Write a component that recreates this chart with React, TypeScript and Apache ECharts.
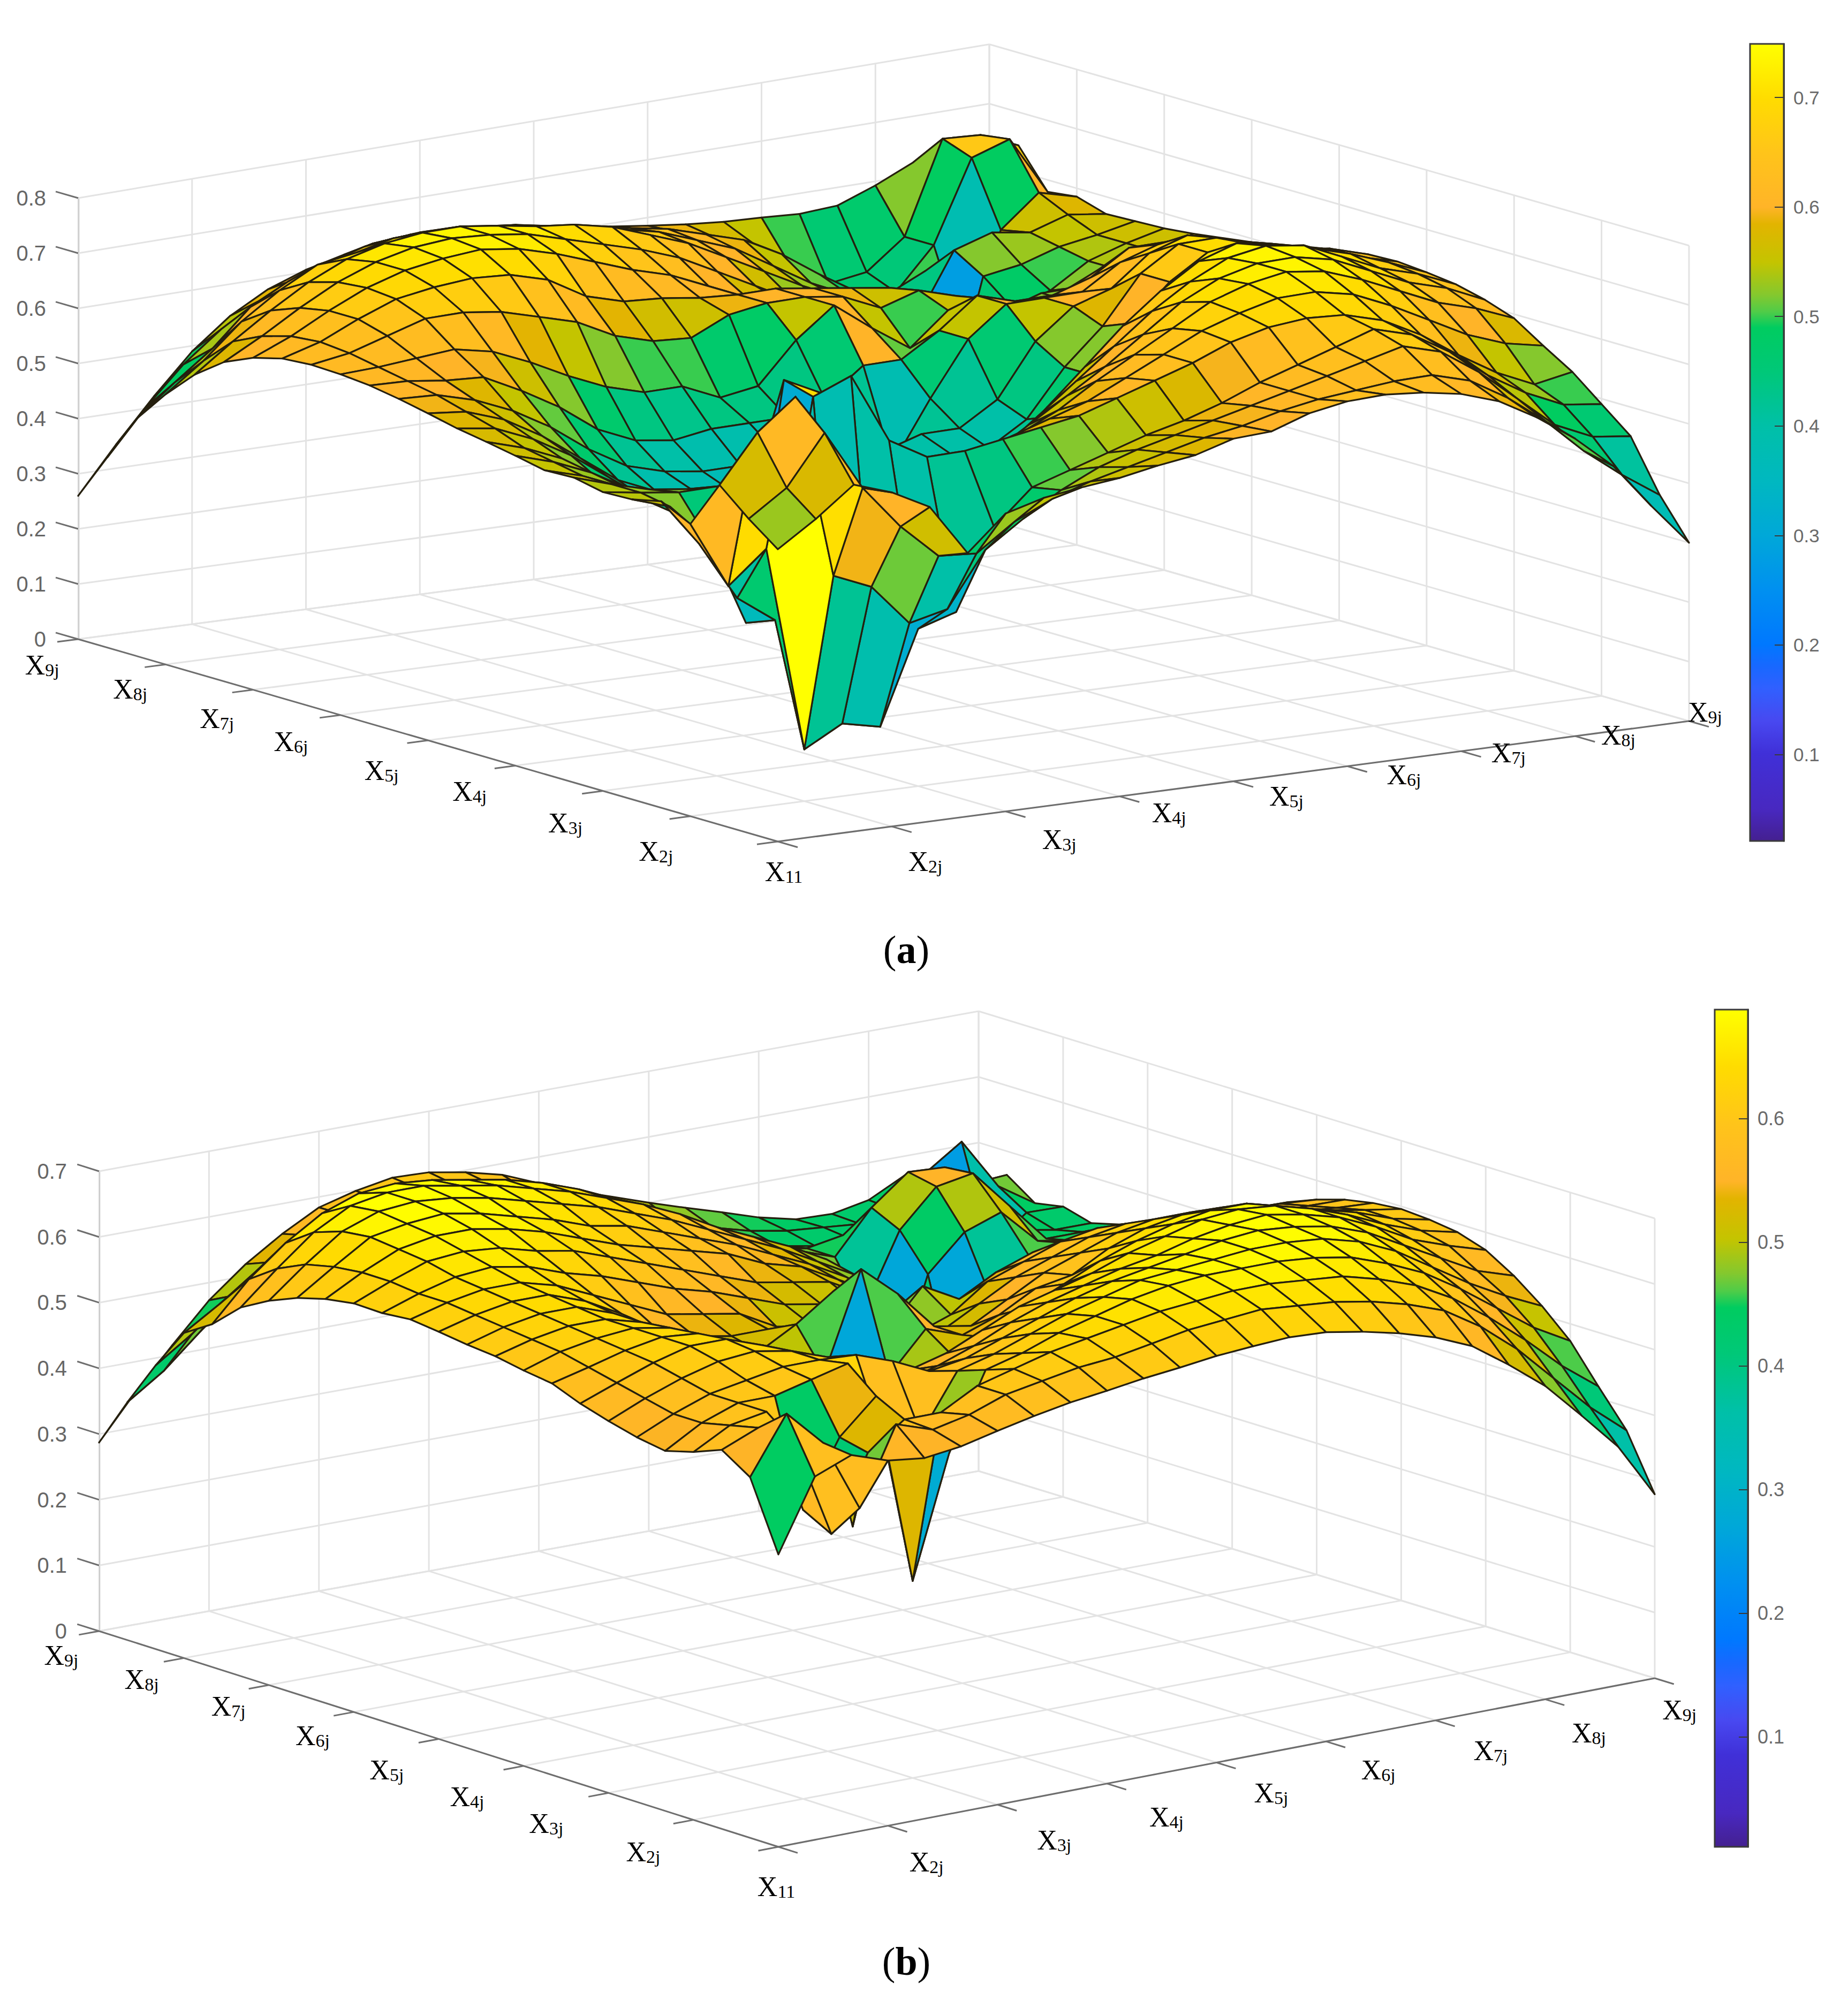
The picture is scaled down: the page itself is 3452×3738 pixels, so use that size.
import React, { useEffect, useRef } from "react";
import * as echarts from "echarts";

const zTicksA = [0, 0.1, 0.2, 0.3, 0.4, 0.5, 0.6, 0.7, 0.8];
const zTicksB = [0, 0.1, 0.2, 0.3, 0.4, 0.5, 0.6, 0.7];
const barTicksA = [0.1, 0.2, 0.3, 0.4, 0.5, 0.6, 0.7];
const barTicksB = [0.1, 0.2, 0.3, 0.4, 0.5, 0.6];
const axisNamesLeft = ["9j", "8j", "7j", "6j", "5j", "4j", "3j", "2j"];
const axisNamesRight = ["2j", "3j", "4j", "5j", "6j", "7j", "8j", "9j"];

const surfaceA = [
[.53,.574,.625,.60,.563,.47,.53,.547,.555,.561,.572,.58,.598,.60,.621,.631,.632,.625,.612,.589,.551,.505,.449,.372,.30],
[.57,.615,.703,.593,.513,.45,.444,.49,.52,.54,.555,.57,.585,.595,.61,.62,.625,.63,.63,.61,.57,.52,.46,.41,.366],
[.616,.70,.753,.42,.39,.315,.33,.425,.47,.51,.54,.56,.575,.59,.605,.62,.635,.65,.665,.645,.60,.545,.49,.46,.451],
[.53,.407,.464,.093,.13,.115,.28,.30,.44,.50,.52,.54,.56,.575,.595,.62,.64,.66,.68,.66,.62,.57,.53,.50,.491],
[.556,.468,.36,.31,.70,.726,.60,.56,.56,.57,.58,.59,.61,.63,.65,.675,.69,.695,.69,.67,.635,.59,.55,.52,.531],
[.544,.52,.45,.29,.715,.68,.55,.52,.52,.53,.55,.57,.59,.62,.65,.68,.70,.715,.715,.70,.67,.635,.60,.575,.561],
[.542,.53,.52,.52,.52,.50,.50,.45,.46,.48,.50,.53,.56,.60,.635,.67,.705,.725,.735,.725,.70,.67,.64,.62,.593],
[.553,.53,.51,.50,.48,.46,.44,.46,.39,.42,.45,.48,.52,.56,.60,.645,.69,.72,.735,.735,.72,.69,.66,.64,.61],
[.551,.53,.50,.47,.44,.42,.40,.39,.42,.38,.40,.42,.46,.51,.56,.61,.66,.70,.73,.74,.73,.70,.67,.65,.622],
[.562,.54,.51,.47,.43,.40,.38,.37,.36,.40,.38,.38,.40,.44,.50,.56,.62,.67,.71,.73,.715,.70,.68,.655,.628],
[.572,.55,.52,.47,.43,.39,.37,.36,.35,.35,.40,.37,.38,.40,.42,.46,.52,.60,.66,.70,.705,.69,.675,.65,.632],
[.581,.57,.54,.50,.45,.40,.38,.36,.36,.36,.37,.38,.40,.40,.40,.44,.52,.58,.66,.70,.70,.68,.66,.65,.63],
[.593,.585,.56,.52,.47,.42,.39,.38,.37,.38,.39,.38,.40,.42,.42,.46,.55,.60,.62,.67,.69,.67,.65,.635,.623],
[.604,.60,.58,.55,.51,.46,.42,.40,.39,.39,.40,.41,.42,.353,.457,.55,.60,.60,.60,.64,.66,.66,.645,.63,.614],
[.613,.61,.60,.595,.56,.52,.47,.44,.43,.44,.44,.44,.46,.51,.51,.55,.60,.58,.58,.60,.64,.64,.63,.618,.604],
[.618,.62,.625,.63,.615,.585,.55,.52,.50,.50,.47,.48,.55,.60,.55,.505,.56,.57,.52,.56,.59,.60,.60,.60,.594],
[.62,.63,.65,.67,.67,.66,.64,.62,.585,.565,.56,.59,.60,.60,.59,.56,.58,.56,.50,.52,.52,.53,.55,.57,.587],
[.616,.635,.665,.69,.70,.705,.70,.68,.64,.62,.615,.605,.60,.60,.59,.58,.57,.54,.47,.50,.52,.52,.54,.56,.58],
[.602,.63,.665,.695,.715,.725,.73,.72,.70,.675,.65,.63,.60,.57,.55,.53,.51,.47,.50,.46,.48,.50,.54,.56,.575],
[.579,.615,.655,.69,.715,.73,.735,.73,.72,.70,.68,.66,.635,.60,.565,.53,.50,.47,.06,.28,.52,.53,.55,.56,.573],
[.541,.59,.635,.675,.705,.722,.73,.73,.72,.708,.70,.685,.66,.635,.60,.565,.53,.50,.48,.44,.55,.57,.56,.58,.571],
[.49,.54,.60,.645,.68,.69,.705,.705,.70,.69,.68,.67,.655,.64,.615,.59,.55,.51,.48,.47,.50,.38,.55,.603,.586],
[.43,.485,.536,.60,.635,.655,.675,.682,.68,.678,.67,.657,.645,.632,.62,.60,.58,.545,.50,.46,.45,.52,.658,.679,.58],
[.345,.424,.492,.545,.585,.614,.638,.655,.66,.66,.652,.642,.632,.62,.605,.59,.57,.55,.50,.46,.47,.52,.676,.672,.644],
[.26,.343,.42,.49,.543,.58,.604,.62,.633,.638,.637,.628,.617,.606,.595,.586,.578,.572,.569,.565,.569,.593,.622,.62,.60],
];

const surfaceB = [
[.445,.553,.575,.556,.549,.556,.569,.581,.591,.598,.606,.612,.619,.623,.626,.623,.613,.60,.583,.559,.52,.477,.421,.363,.28],
[.549,.635,.58,.47,.587,.568,.58,.60,.61,.62,.625,.635,.645,.65,.655,.65,.645,.635,.62,.60,.565,.52,.465,.41,.364],
[.577,.60,.567,.417,.53,.57,.57,.60,.615,.63,.64,.65,.66,.665,.67,.67,.665,.66,.645,.625,.595,.555,.51,.46,.418],
[.56,.59,.60,.44,.54,.592,.30,.484,.60,.615,.635,.65,.665,.675,.68,.68,.68,.675,.665,.645,.62,.585,.545,.505,.474],
[.548,.58,.60,.60,.614,.628,.50,.50,.585,.60,.62,.64,.655,.67,.675,.68,.685,.685,.68,.665,.64,.605,.57,.54,.514],
[.555,.58,.60,.61,.62,.62,.617,.597,.571,.58,.60,.62,.64,.655,.665,.675,.685,.69,.685,.675,.655,.625,.595,.565,.547],
[.566,.59,.61,.625,.63,.62,.60,.56,.54,.555,.575,.60,.62,.635,.65,.66,.675,.685,.69,.68,.665,.64,.61,.59,.573],
[.579,.60,.62,.635,.635,.615,.575,.54,.53,.535,.55,.575,.60,.615,.63,.65,.665,.68,.685,.68,.665,.645,.62,.60,.587],
[.596,.61,.625,.635,.63,.60,.56,.53,.51,.51,.49,.52,.54,.575,.60,.625,.645,.66,.67,.67,.655,.64,.625,.605,.593],
[.602,.62,.63,.635,.625,.59,.55,.52,.50,.27,.49,.55,.53,.55,.58,.59,.62,.64,.65,.65,.64,.63,.615,.605,.596],
[.61,.625,.635,.635,.62,.585,.55,.53,.50,.49,.638,.59,.53,.52,.55,.58,.60,.62,.63,.63,.62,.61,.60,.595,.592],
[.614,.63,.64,.64,.62,.59,.54,.52,.52,.551,.59,.52,.48,.50,.53,.56,.58,.60,.61,.605,.60,.59,.585,.585,.584],
[.62,.635,.645,.645,.625,.595,.56,.54,.53,.53,.52,.48,.46,.48,.50,.54,.56,.58,.59,.585,.58,.575,.575,.575,.571],
[.625,.64,.65,.65,.635,.61,.585,.56,.55,.54,.51,.50,.48,.47,.53,.50,.53,.55,.56,.56,.555,.55,.55,.555,.554],
[.621,.64,.655,.66,.65,.63,.615,.595,.575,.56,.54,.52,.51,.50,.48,.47,.48,.50,.52,.53,.53,.53,.53,.535,.533],
[.622,.645,.665,.67,.665,.65,.64,.62,.60,.58,.56,.54,.53,.52,.49,.46,.44,.45,.47,.49,.50,.505,.51,.515,.513],
[.615,.645,.67,.68,.68,.67,.655,.635,.615,.60,.585,.57,.545,.53,.50,.47,.44,.40,.42,.45,.47,.48,.49,.495,.495],
[.603,.64,.675,.685,.69,.68,.665,.65,.63,.62,.60,.58,.56,.535,.51,.48,.44,.42,.27,.40,.46,.47,.475,.48,.477],
[.585,.63,.67,.69,.695,.69,.68,.665,.65,.635,.615,.595,.57,.545,.52,.49,.46,.27,.44,.494,.514,.46,.45,.46,.458],
[.561,.61,.655,.685,.695,.695,.685,.675,.66,.645,.625,.605,.58,.55,.525,.50,.47,.38,.494,.55,.56,.50,.44,.44,.441],
[.522,.58,.625,.66,.68,.685,.68,.67,.66,.645,.625,.60,.575,.55,.52,.495,.47,.45,.515,.559,.556,.50,.44,.43,.43],
[.495,.53,.57,.61,.64,.655,.66,.655,.645,.63,.61,.59,.565,.54,.51,.48,.46,.45,.46,.50,.50,.25,.40,.443,.442],
[.432,.47,.515,.555,.59,.615,.625,.625,.62,.61,.595,.575,.55,.525,.50,.475,.455,.44,.43,.43,.43,.51,.548,.47,.434],
[.362,.40,.45,.495,.535,.565,.585,.60,.605,.60,.59,.57,.55,.525,.50,.48,.465,.45,.44,.435,.43,.44,.47,.46,.464],
[.287,.354,.415,.473,.518,.554,.584,.599,.609,.607,.597,.583,.56,.538,.519,.50,.482,.465,.447,.434,.432,.443,.471,.457,.43],
];

// cell colours read directly where a fold hides the vertex that sets the face colour: [i, j, value]
const colourReadingsA = [[3, 0, 0.6], [3, 3, 0.38], [3, 4, 0.38], [3, 5, 0.4], [3, 6, 0.4], [3, 7, 0.42], [1, 5, 0.4], [14, 13, 0.6], [13, 13, 0.38], [15, 15, 0.5], [21, 21, 0.38], [21, 22, 0.49], [22, 21, 0.49], [20, 20, 0.55]];
const colourReadingsB = [[0, 1, 0.58], [2, 5, 0.53], [2, 6, 0.28], [4, 6, 0.58], [4, 7, 0.58], [21, 21, 0.25], [21, 22, 0.36], [17, 19, 0.38], [10, 9, 0.46], [9, 10, 0.46]];

const colourStops: [number, string][] = [
  [0, "#442090"], [0.04, "#4828c0"], [0.11, "#4030d8"], [0.15, "#4848f0"], [0.192, "#3060ff"], [0.219, "#1868ff"],
  [0.247, "#0078ff"], [0.315, "#0090f0"], [0.384, "#00a8d8"], [0.452, "#00b8c0"], [0.52, "#00c0a8"], [0.589, "#00c878"],
  [0.644, "#00cc60"], [0.664, "#50cc48"], [0.685, "#84c82e"], [0.726, "#c4c400"], [0.774, "#e2b400"], [0.795, "#ffb428"],
  [0.863, "#ffc41a"], [0.932, "#ffdc00"], [1, "#ffff00"],
];

function hex(c: string) {
  return [parseInt(c.slice(1, 3), 16), parseInt(c.slice(3, 5), 16), parseInt(c.slice(5, 7), 16)];
}
function colourAt(f: number) {
  const t = Math.max(0, Math.min(1, f));
  for (let k = 1; k < colourStops.length; k++) {
    if (t <= colourStops[k][0]) {
      const [a, ca] = colourStops[k - 1];
      const [b, cb] = colourStops[k];
      const r = (t - a) / (b - a);
      const x = hex(ca), y = hex(cb);
      return `rgb(${x.map((v, n) => Math.round(v + (y[n] - v) * r)).join(",")})`;
    }
  }
  return "#ffff00";
}

type Pt = [number, number];
interface Panel {
  F: Pt; L: Pt; R: Pt; B: Pt; spread: number; zMax: number; zTicks: number[];
  surface: number[][]; colourReadings: number[][];
  barMin: number; barMax: number; barTicks: number[]; barX: number; barW: number; barTop: number; barBottom: number; barFont: number;
  labelsLeft: Pt[]; labelOrigin: Pt; labelsRight: Pt[]; caption: string; captionAt: Pt; zTop: number;
}

const S = 3452 / 1448;
const toFull = (p: number[][]): Pt[] => p.map(([x, y]) => [x * S, y * S] as Pt);

const panels: Panel[] = [
  {
    F: [1453, 1572], L: [146, 1194], R: [3155, 1347], B: [1848, 971], spread: 0.078, zMax: 0.8, zTicks: zTicksA, zTop: 370,
    surface: surfaceA, colourReadings: colourReadingsA,
    barMin: 0.0211, barMax: 0.7489, barTicks: barTicksA, barX: 3269, barW: 63, barTop: 82, barBottom: 1571, barFont: 35,
    labelsLeft: toFull([[33, 521], [102, 540], [170, 563], [228, 581], [299, 604], [368, 620], [443, 645], [514, 667]]),
    labelOrigin: [1464, 1628],
    labelsRight: toFull([[725, 675], [830, 658], [916, 637], [1008, 624], [1100, 607], [1182, 590], [1268, 576], [1336, 558]]),
    caption: "a", captionAt: [1693, 1774],
  },
  {
    F: [1454, 3450], L: [185, 3047], R: [3091, 3135], B: [1828, 2748], spread: 0, zMax: 0.7, zTicks: zTicksB, zTop: 2188,
    surface: surfaceB, colourReadings: colourReadingsB,
    barMin: 0.0113, barMax: 0.688, barTicks: barTicksB, barX: 3203, barW: 62, barTop: 1886, barBottom: 3450, barFont: 36,
    labelsLeft: toFull([[48, 1297], [111, 1316], [179, 1337], [245, 1360], [303, 1387], [366, 1408], [428, 1429], [504, 1451]]),
    labelOrigin: [1450, 3524],
    labelsRight: toFull([[726, 1459], [826, 1442], [914, 1424], [996, 1405], [1080, 1387], [1168, 1372], [1245, 1358], [1316, 1340]]),
    caption: "b", captionAt: [1693, 3664],
  },
];

const N = 24;
const GRID_COL = "#e3e3e3";
const AXIS_COL = "#6e6e6e";

function buildOption() {
  const grids: any[] = [];
  const xAxes: any[] = [];
  const yAxes: any[] = [];
  const series: any[] = [];
  const graphic: any[] = [];

  panels.forEach((p) => {
    const base = (i: number, j: number): Pt => {
      const u = i / N, v = j / N;
      const w = (a: number) => p.F[a] * (1 - u) * (1 - v) + p.L[a] * u * (1 - v) + p.R[a] * (1 - u) * v + p.B[a] * u * v;
      return [w(0), w(1)];
    };
    const gridIndex = grids.length;
    grids.push({ left: p.L[0], top: p.zTop, width: 10, height: p.L[1] - p.zTop });
    xAxes.push({ gridIndex, type: "value", min: 0, max: N, show: false });
    yAxes.push({
      gridIndex, type: "value", min: 0, max: p.zMax, interval: 0.1, position: "left", splitLine: { show: false },
      axisLine: { show: true, onZero: false, lineStyle: { color: AXIS_COL, width: 3 } }, axisTick: { show: false },
      axisLabel: {
        margin: 60, fontSize: 40, color: "#666", fontFamily: "Liberation Sans", padding: [0, 0, 22, 0],
        formatter: (v: number) => (v === 0 ? "0" : v.toFixed(1)),
      },
    });

    const project = (api: any, i: number, j: number, z: number): Pt => {
      const [x, y] = base(i, j);
      const zero = api.coord([0, 0])[1];
      const h = (zero - api.coord([0, z])[1]) * (1 + (p.spread * j) / N);
      return [x, y - h];
    };

    // walls, floor and ticks: [i1, j1, z1, i2, j2, z2, kind]
    const frame: number[][] = [];
    for (let k = 0; k <= 8; k++) {
      const t = k * 3;
      frame.push([t, 0, 0, t, N, 0, 0], [0, t, 0, N, t, 0, 0]);
      frame.push([N, t, 0, N, t, p.zMax, 0], [t, N, 0, t, N, p.zMax, 0]);
      frame.push([t, 0, 0, t, -0.55, 0, 1], [0, t, 0, -0.68, t, 0, 1]);
    }
    p.zTicks.forEach((z) => {
      frame.push([N, 0, z, N, N, z, 0], [N, N, z, 0, N, z, 0], [N, 0, z, N + 0.77, 0, z, 1]);
    });
    frame.push([0, 0, 0, N, 0, 0, 1], [0, 0, 0, 0, N, 0, 1]);
    frame.sort((a, b) => a[6] - b[6]);

    series.push({
      type: "custom", coordinateSystem: "cartesian2d", xAxisIndex: gridIndex, yAxisIndex: gridIndex, silent: true, clip: false, z: 1,
      data: frame,
      encode: { x: 0, y: 2 },
      renderItem: (_: any, api: any) => {
        const a = project(api, api.value(0), api.value(1), api.value(2));
        const b = project(api, api.value(3), api.value(4), api.value(5));
        const kind = api.value(6);
        return {
          type: "line", shape: { x1: a[0], y1: a[1], x2: b[0], y2: b[1] },
          style: { stroke: kind ? AXIS_COL : GRID_COL, lineWidth: 3, fill: null },
        };
      },
    });

    // surface cells, far cells first so that near ones cover them
    const reading = new Map<string, number>();
    p.colourReadings.forEach(([i, j, v]) => reading.set(`${i},${j}`, v));
    const cells: number[][] = [];
    for (let i = 0; i < N; i++) {
      for (let j = 0; j < N; j++) {
        const s = p.surface;
        const c = reading.has(`${i},${j}`) ? (reading.get(`${i},${j}`) as number) : s[i][j];
        cells.push([i, j, s[i][j], s[i + 1][j], s[i + 1][j + 1], s[i][j + 1], c]);
      }
    }
    cells.sort((a, b) => b[0] + b[1] - (a[0] + a[1]));
    series.push({
      type: "custom", coordinateSystem: "cartesian2d", xAxisIndex: gridIndex, yAxisIndex: gridIndex, silent: true, clip: false, z: 3,
      data: cells,
      encode: { x: 0, y: 2 },
      renderItem: (_: any, api: any) => {
        const i = api.value(0), j = api.value(1);
        const pts = [
          project(api, i, j, api.value(2)),
          project(api, i + 1, j, api.value(3)),
          project(api, i + 1, j + 1, api.value(4)),
          project(api, i, j + 1, api.value(5)),
        ];
        return {
          type: "polygon", shape: { points: pts },
          style: {
            fill: colourAt((api.value(6) - p.barMin) / (p.barMax - p.barMin)),
            stroke: "#251f0e", lineWidth: 3.2, lineJoin: "round",
          },
        };
      },
    });

    // colour bar
    const barGrid = grids.length;
    grids.push({ left: p.barX, top: p.barTop, width: p.barW, height: p.barBottom - p.barTop });
    xAxes.push({ gridIndex: barGrid, type: "value", min: 0, max: 1, show: false });
    yAxes.push({
      gridIndex: barGrid, type: "value", min: p.barMin, max: p.barMax, position: "right", splitLine: { show: false },
      axisLine: { show: true, onZero: false, lineStyle: { color: "#3a3a3a", width: 3 } },
      axisTick: { show: true, inside: true, length: 17, customValues: p.barTicks, lineStyle: { color: "#3a3a3a", width: 2 } },
      axisLabel: {
        margin: 18, fontSize: p.barFont, color: "#6a6a6a", fontFamily: "Liberation Sans", customValues: p.barTicks,
        formatter: (v: number) => v.toFixed(1),
      },
    });
    const gradient = new echarts.graphic.LinearGradient(0, 1, 0, 0, colourStops.map(([offset, color]) => ({ offset, color })));
    series.push({
      type: "custom", coordinateSystem: "cartesian2d", xAxisIndex: barGrid, yAxisIndex: barGrid, silent: true, clip: false, z: 0,
      data: [[0, p.barMin, 1, p.barMax]],
      encode: { x: 0, y: 1 },
      renderItem: (_: any, api: any) => {
        const a = api.coord([api.value(0), api.value(1)]);
        const b = api.coord([api.value(2), api.value(3)]);
        return {
          type: "rect", shape: { x: a[0], y: b[1], width: b[0] - a[0], height: a[1] - b[1] },
          style: { fill: gradient, stroke: "#3a3a3a", lineWidth: 3 },
        };
      },
    });

    const nameRich = {
      x: { fontFamily: "Liberation Serif", fontSize: 52, color: "#333", verticalAlign: "bottom" },
      s: { fontFamily: "Liberation Serif", fontSize: 34, color: "#444", verticalAlign: "bottom", padding: [6, 0, 0, 0] },
    };
    const nameText = (at: Pt, sub: string) => ({
      type: "text", x: at[0], y: at[1], silent: true, z: 5,
      style: { text: `{x|X}{s|${sub}}`, rich: nameRich, align: "center", verticalAlign: "middle" },
    });
    p.labelsLeft.forEach((at, k) => graphic.push(nameText(at, axisNamesLeft[k])));
    graphic.push(nameText(p.labelOrigin, "11"));
    p.labelsRight.forEach((at, k) => graphic.push(nameText(at, axisNamesRight[k])));
    graphic.push({
      type: "text", x: p.captionAt[0], y: p.captionAt[1], silent: true, z: 5,
      style: {
        text: `{n|(}{b|${p.caption}}{n|)}`, align: "center", verticalAlign: "middle",
        rich: {
          n: { fontFamily: "Liberation Serif", fontSize: 74, color: "#000" },
          b: { fontFamily: "Liberation Serif", fontSize: 74, fontWeight: "bold", color: "#000" },
        },
      },
    });
  });

  return { animation: false, backgroundColor: "#fff", grid: grids, xAxis: xAxes, yAxis: yAxes, series, graphic };
}

export default function App() {
  const ref = useRef<HTMLDivElement>(null);
  useEffect(() => {
    const chart = echarts.init(ref.current as HTMLDivElement, undefined, { renderer: "svg" });
    chart.setOption(buildOption() as any);
    return () => chart.dispose();
  }, []);
  return <div ref={ref} style={{ position: "absolute", left: 0, top: 0, width: 3452, height: 3738 }} />;
}
